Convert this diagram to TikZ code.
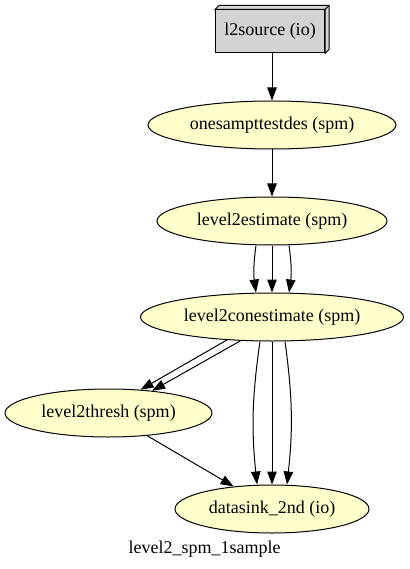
\documentclass[tikz,border=0pt]{standalone}
\usepackage{fontspec}
\setmainfont{Liberation Serif}
\usepackage{tikz}
\usetikzlibrary{shapes}
\usetikzlibrary{arrows.meta}
\definecolor{nodeyellow}{RGB}{255,255,204}
\definecolor{boxgrey}{RGB}{211,211,211}
\tikzset{
	main node/.style={ellipse,draw,fill=nodeyellow,inner sep=0pt,minimum height=48pt,font=\fontsize{18}{21}\selectfont},
	io node/.style={rectangle,draw,fill=boxgrey,inner sep=0pt,minimum width=109pt,minimum height=43pt,font=\fontsize{18}{21}\selectfont},
	graph label/.style={font=\fontsize{18}{21}\selectfont}
}

\begin{document}
\begin{tikzpicture}[x=1pt,y=-1pt,->,>={Triangle[length=13pt,width=9.5pt]},line width=1pt]
	\useasboundingbox (0,0) rectangle (409,569);
	\node [io node] (src) at (270,31.5) {l2source (io)};
	\draw [-,fill=boxgrey] (src.north west) -- ([shift={(4pt,4pt)}]src.north west) -- ([shift={(4pt,4pt)}]src.north east)
	    -- ([shift={(4pt,4pt)}]src.south east) -- (src.south east) -- (src.north east) -- cycle;
	\draw [-] (src.north east) -- ([shift={(4pt,4pt)}]src.north east);
	\node [main node,minimum width=248pt] (des) at (272,125) {onesampttestdes (spm)};
	\node [main node,minimum width=230pt] (est) at (272,221) {level2estimate (spm)};
	\node [main node,minimum width=263pt] (con) at (272,317) {level2conestimate (spm)};
	\node [main node,minimum width=207pt] (thr) at (108.5,413) {level2thresh (spm)};
	\node [main node,minimum width=194pt] (sink) at (272,509) {datasink\_2nd (io)};
	\node [graph label] (title) at (204.5,549) {level2\_spm\_1sample};
	% edges
	\draw (src.south -| des.north) -- (des);
	\draw (des) -- (est);
	\draw ([xshift=-16pt]est.south) to[bend right=8] ([xshift=-16pt]con.north);
	\draw (est) -- (con);
	\draw ([xshift=17pt]est.south) to[bend left=8] ([xshift=17pt]con.north);
	\draw (con.207) -- (thr.36);
	\draw (con.217) -- (thr.27);
	\draw ([xshift=-12pt]con.south) to[bend right=7] ([xshift=-15pt]sink.north);
	\draw (con) -- (sink);
	\draw ([xshift=13pt]con.south) to[bend left=7] ([xshift=15pt]sink.north);
	\draw (thr) -- (sink);
\end{tikzpicture}
\end{document}
